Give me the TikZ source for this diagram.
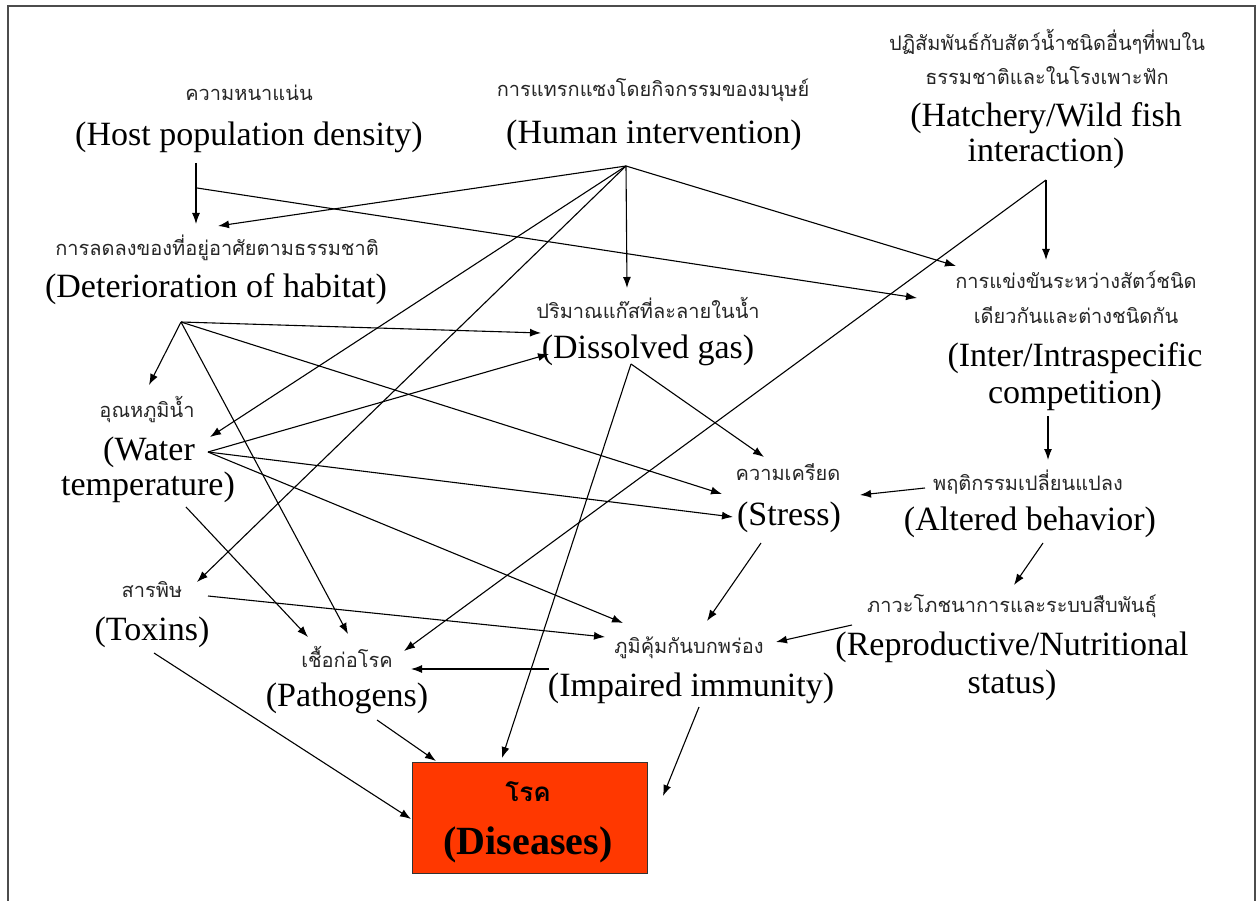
\documentclass[tikz,border=0pt]{standalone}
\usepackage{fontspec}
\setmainfont{Liberation Serif}
\newfontfamily\thai[Script=Thai]{Loma}
\usetikzlibrary{arrows.meta}
\definecolor{diseasered}{RGB}{255,56,0}
\begin{document}
\begin{tikzpicture}[x=1pt,y=-1pt,
  en/.style={font=\fontsize{34}{38}\selectfont, inner sep=0pt, text=black},
  enb/.style={font=\fontsize{40}{44}\selectfont\bfseries, inner sep=0pt, text=black},
  th/.style={font=\thai\fontsize{20}{24}\selectfont, inner sep=0pt, text=black!85},
  thb/.style={font=\thai\fontsize{26}{30}\selectfont\bfseries, inner sep=0pt, text=black},
  arr/.style={-{Latex[length=11pt,width=8pt]}, line width=1.1pt},
]
\useasboundingbox (0,0) rectangle (1257,901);
\draw[line width=1.5pt, black!70] (8,905) -- (8,6) -- (1255,6) -- (1255,905);

% nodes
\node[th] (hostT) at (249,93) {ความหนาแน่น};
\node[en] (host) at (249,137) {(Host population density)};
\node[th] (humT) at (653,90) {การแทรกแซงโดยกิจกรรมของมนุษย์};
\node[en] (hum) at (654,135) {(Human intervention)};
\node[th] (hatT1) at (1047,42) {ปฏิสัมพันธ์กับสัตว์น้ำชนิดอื่นๆที่พบใน};
\node[th] (hatT2) at (1047,76) {ธรรมชาติและในโรงเพาะฟัก};
\node[en] (hat1) at (1046,118) {(Hatchery/Wild fish};
\node[en] (hat2) at (1046,153) {interaction)};
\node[th] (detT) at (217,248) {การลดลงของที่อยู่อาศัยตามธรรมชาติ};
\node[en] (det) at (216,289) {(Deterioration of habitat)};
\node[th] (gasT) at (648,308) {ปริมาณแก๊สที่ละลายในน้ำ};
\node[en] (gas) at (648,350) {(Dissolved gas)};
\node[th] (compT1) at (1076,280) {การแข่งขันระหว่างสัตว์ชนิด};
\node[th] (compT2) at (1076,315) {เดียวกันและต่างชนิดกัน};
\node[en] (comp1) at (1075,358) {(Inter/Intraspecific};
\node[en] (comp2) at (1075,395) {competition)};
\node[th] (watT) at (147,410) {อุณหภูมิน้ำ};
\node[en] (wat1) at (149,452) {(Water};
\node[en] (wat2) at (148,487) {temperature)};
\node[th] (strT) at (788,472) {ความเครียด};
\node[en] (str) at (789,517) {(Stress)};
\node[th] (altT) at (1028,482) {พฤติกรรมเปลี่ยนแปลง};
\node[en] (alt) at (1030,522) {(Altered behavior)};
\node[th] (toxT) at (152,590) {สารพิษ};
\node[en] (tox) at (152,632) {(Toxins)};
\node[th] (patT) at (347,657) {เชื้อก่อโรค};
\node[en] (pat) at (347,698) {(Pathogens)};
\node[th] (immT) at (689,648) {ภูมิคุ้มกันบกพร่อง};
\node[en] (imm) at (691,688) {(Impaired immunity)};
\node[th] (repT) at (1012,606) {ภาวะโภชนาการและระบบสืบพันธุ์};
\node[en] (rep1) at (1012,647) {(Reproductive/Nutritional};
\node[en] (rep2) at (1012,685) {status)};
\node[draw=black!80, fill=diseasered, line width=1pt, minimum width=235pt, minimum height=111pt, inner sep=0pt] (dis) at (529.5,817.5) {};
\node[thb] (disT) at (528,792) {โรค};
\node[enb] (disE) at (528,845) {(Diseases)};

% connector end points
\coordinate (hostS) at (196,163);
\coordinate (hostS2) at (197,188);
\coordinate (humS) at (626,166);
\coordinate (hatS) at (1046,180);
\coordinate (detS) at (181,322);
\coordinate (watS) at (208,452);
\coordinate (watS2) at (186,507);
\coordinate (toxS) at (208,596);
\coordinate (toxS2) at (154,653);
\coordinate (gasS) at (631,364);
\coordinate (compS) at (1048,416);
\coordinate (altS) at (925,488);
\coordinate (altS2) at (1043,543);
\coordinate (strS) at (761,543);
\coordinate (repS) at (852,625);
\coordinate (immS) at (549,669);
\coordinate (immS2) at (699,707);
\coordinate (patS) at (377,720);

\coordinate (detIn1) at (196,224);
\coordinate (detIn2) at (218,226);
\coordinate (gasIn1) at (627,288);
\coordinate (compIn1) at (956,266);
\coordinate (compIn2) at (917,298);
\coordinate (compIn3) at (1046,260);
\coordinate (watIn1) at (149,385);
\coordinate (watIn2) at (210,437);
\coordinate (gasIn2) at (541,333);
\coordinate (gasIn3) at (549,354);
\coordinate (strIn1) at (764,457);
\coordinate (strIn2) at (722,494);
\coordinate (strIn3) at (733,517);
\coordinate (strIn4) at (860,495);
\coordinate (altIn) at (1048,460);
\coordinate (repIn) at (1014,585);
\coordinate (toxIn) at (197,582);
\coordinate (patIn1) at (308,637);
\coordinate (patIn2) at (348,634);
\coordinate (patIn3) at (404,651);
\coordinate (patIn4) at (411,669);
\coordinate (immIn1) at (605,637);
\coordinate (immIn2) at (623,623);
\coordinate (immIn3) at (707,621);
\coordinate (immIn4) at (776,642);
\coordinate (disIn1) at (436,761);
\coordinate (disIn2) at (411,819);
\coordinate (disIn3) at (502,758);
\coordinate (disIn4) at (663,796);

% connectors
\draw[arr] (hostS) -- (detIn1);
\draw[arr] (hostS2) -- (compIn2);
\draw[arr] (humS) -- (detIn2);
\draw[arr] (humS) -- (watIn2);
\draw[arr] (humS) -- (toxIn);
\draw[arr] (humS) -- (gasIn1);
\draw[arr] (humS) -- (compIn1);
\draw[arr] (hatS) -- (compIn3);
\draw[arr] (hatS) -- (patIn3);
\draw[arr] (detS) -- (watIn1);
\draw[arr] (detS) -- (gasIn2);
\draw[arr] (detS) -- (strIn2);
\draw[arr] (detS) -- (patIn2);
\draw[arr] (watS) -- (gasIn3);
\draw[arr] (watS) -- (strIn3);
\draw[arr] (watS) -- (immIn2);
\draw[arr] (watS2) -- (patIn1);
\draw[arr] (toxS) -- (immIn1);
\draw[arr] (toxS2) -- (disIn2);
\draw[arr] (gasS) -- (strIn1);
\draw[arr] (gasS) -- (disIn3);
\draw[arr] (compS) -- (altIn);
\draw[arr] (altS) -- (strIn4);
\draw[arr] (altS2) -- (repIn);
\draw[arr] (strS) -- (immIn3);
\draw[arr] (repS) -- (immIn4);
\draw[arr] (immS) -- (patIn4);
\draw[arr] (immS2) -- (disIn4);
\draw[arr] (patS) -- (disIn1);
\end{tikzpicture}
\end{document}
